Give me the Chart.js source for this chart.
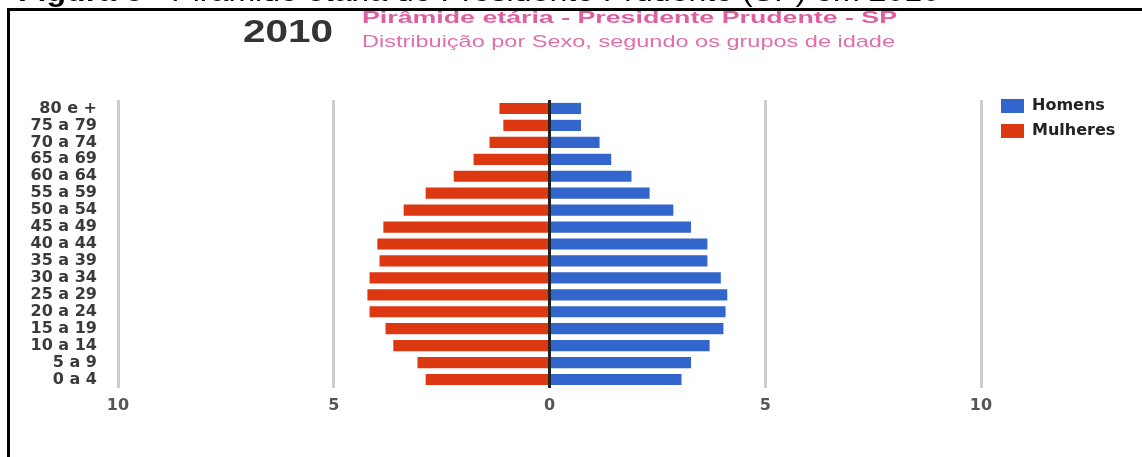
<!DOCTYPE html>
<html>
<head>
<meta charset="utf-8">
<script src="https://cdn.jsdelivr.net/npm/chart.js@4/dist/chart.umd.min.js"></script>
<style>
html,body{margin:0;padding:0;background:#fff;width:1142px;height:457px;overflow:hidden;}
#wrap{position:relative;width:1142px;height:457px;overflow:hidden;}
#chart{position:absolute;left:0;top:0;}
.t{position:absolute;white-space:nowrap;transform-origin:0 0;}
#frame{position:absolute;left:7px;top:8px;width:1200px;height:500px;border-left:3px solid #000;border-top:3px solid #000;}
#cap{left:18px;top:-22px;font:28px/28px 'Liberation Sans',Arial,sans-serif;color:#000;}
#year{left:243px;top:16px;font:bold 31px/31px 'Liberation Sans',Arial,sans-serif;color:#333;}
#t1{left:362px;top:9px;font:bold 17px/17px 'Liberation Sans',Arial,sans-serif;color:#de5fa0;}
#t2{left:362px;top:33px;font:17px/17px 'Liberation Sans',Arial,sans-serif;color:#e070aa;}
</style>
</head>
<body>
<div id="wrap">
  <canvas id="chart" width="1142" height="457"></canvas>
  <div id="frame"></div>
  <div class="t" id="cap" data-w="922"><b>Figura 6</b> - Pirâmide etária de Presidente Prudente (SP) em 2010</div>
  <div class="t" id="year" data-w="90">2010</div>
  <div class="t" id="t1" data-w="535">Pirâmide etária - Presidente Prudente - SP</div>
  <div class="t" id="t2" data-w="533">Distribuição por Sexo, segundo os grupos de idade</div>
</div>
<script>
// ---- data ----
const ageGroups = ['80 e +','75 a 79','70 a 74','65 a 69','60 a 64','55 a 59','50 a 54','45 a 49','40 a 44','35 a 39','30 a 34','25 a 29','20 a 24','15 a 19','10 a 14','5 a 9','0 a 4'];
const homens   = [0.73, 0.73, 1.16, 1.43, 1.90, 2.32, 2.87, 3.28, 3.66, 3.66, 3.97, 4.12, 4.08, 4.03, 3.71, 3.28, 3.06];
const mulheres = [1.16, 1.07, 1.39, 1.76, 2.22, 2.87, 3.38, 3.85, 3.99, 3.94, 4.17, 4.22, 4.17, 3.80, 3.62, 3.06, 2.87];
const xTicks = [-10, -5, 0, 5, 10];
const seriesNames = ['Homens', 'Mulheres'];

// stretch overlay titles to their target widths
document.querySelectorAll('.t[data-w]').forEach(el => {
  const w = el.getBoundingClientRect().width;
  el.style.transform = 'scaleX(' + (parseFloat(el.dataset.w) / w) + ')';
});

const font16b = {family: "'DejaVu Sans', sans-serif", size: 16, weight: 'bold'};

const legendPlace = {
  id: 'legendPlace',
  afterLayout(chart) {
    const l = chart.legend;
    if (!l) return;
    const w = 150, h = l.height;
    l.width = w;
    l.left = 992; l.right = 992 + w;
    l.top = 89; l.bottom = 89 + h;
  }
};

new Chart(document.getElementById('chart'), {
  type: 'bar',
  data: {
    labels: ageGroups,
    datasets: [
      {label: seriesNames[0], data: homens, backgroundColor: '#3366CC', borderWidth: 0, barPercentage: 0.66, categoryPercentage: 1},
      {label: seriesNames[1], data: mulheres.map(v => -v), backgroundColor: '#DC3912', borderWidth: 0, barPercentage: 0.66, categoryPercentage: 1}
    ]
  },
  options: {
    indexAxis: 'y',
    responsive: false,
    animation: false,
    devicePixelRatio: 1,
    layout: {padding: {top: 100, left: 0, right: 41, bottom: 0}},
    scales: {
      x: {
        stacked: true, min: -10, max: 10, z: 1,
        afterFit(a) { a.height = 69; },
        afterBuildTicks(a) { a.ticks = xTicks.map(v => ({value: v})); },
        grid: {drawTicks: false, lineWidth: 3, color: c => (c.tick && c.tick.value === 0) ? '#222222' : '#cccccc'},
        border: {display: false},
        ticks: {padding: 8, color: '#555', font: font16b, callback: v => Math.abs(v)}
      },
      y: {
        stacked: true,
        afterFit(a) { a.width = 118; },
        grid: {display: false, drawTicks: false},
        border: {display: false},
        ticks: {padding: 21, color: '#3a3a3a', font: font16b, autoSkip: false}
      }
    },
    plugins: {
      legend: {
        position: 'right', align: 'start', maxWidth: 120,
        labels: {boxWidth: 23, boxHeight: 14, padding: 9, color: '#222', font: font16b}
      },
      tooltip: {enabled: false}
    }
  },
  plugins: [legendPlace]
});
</script>
</body>
</html>
